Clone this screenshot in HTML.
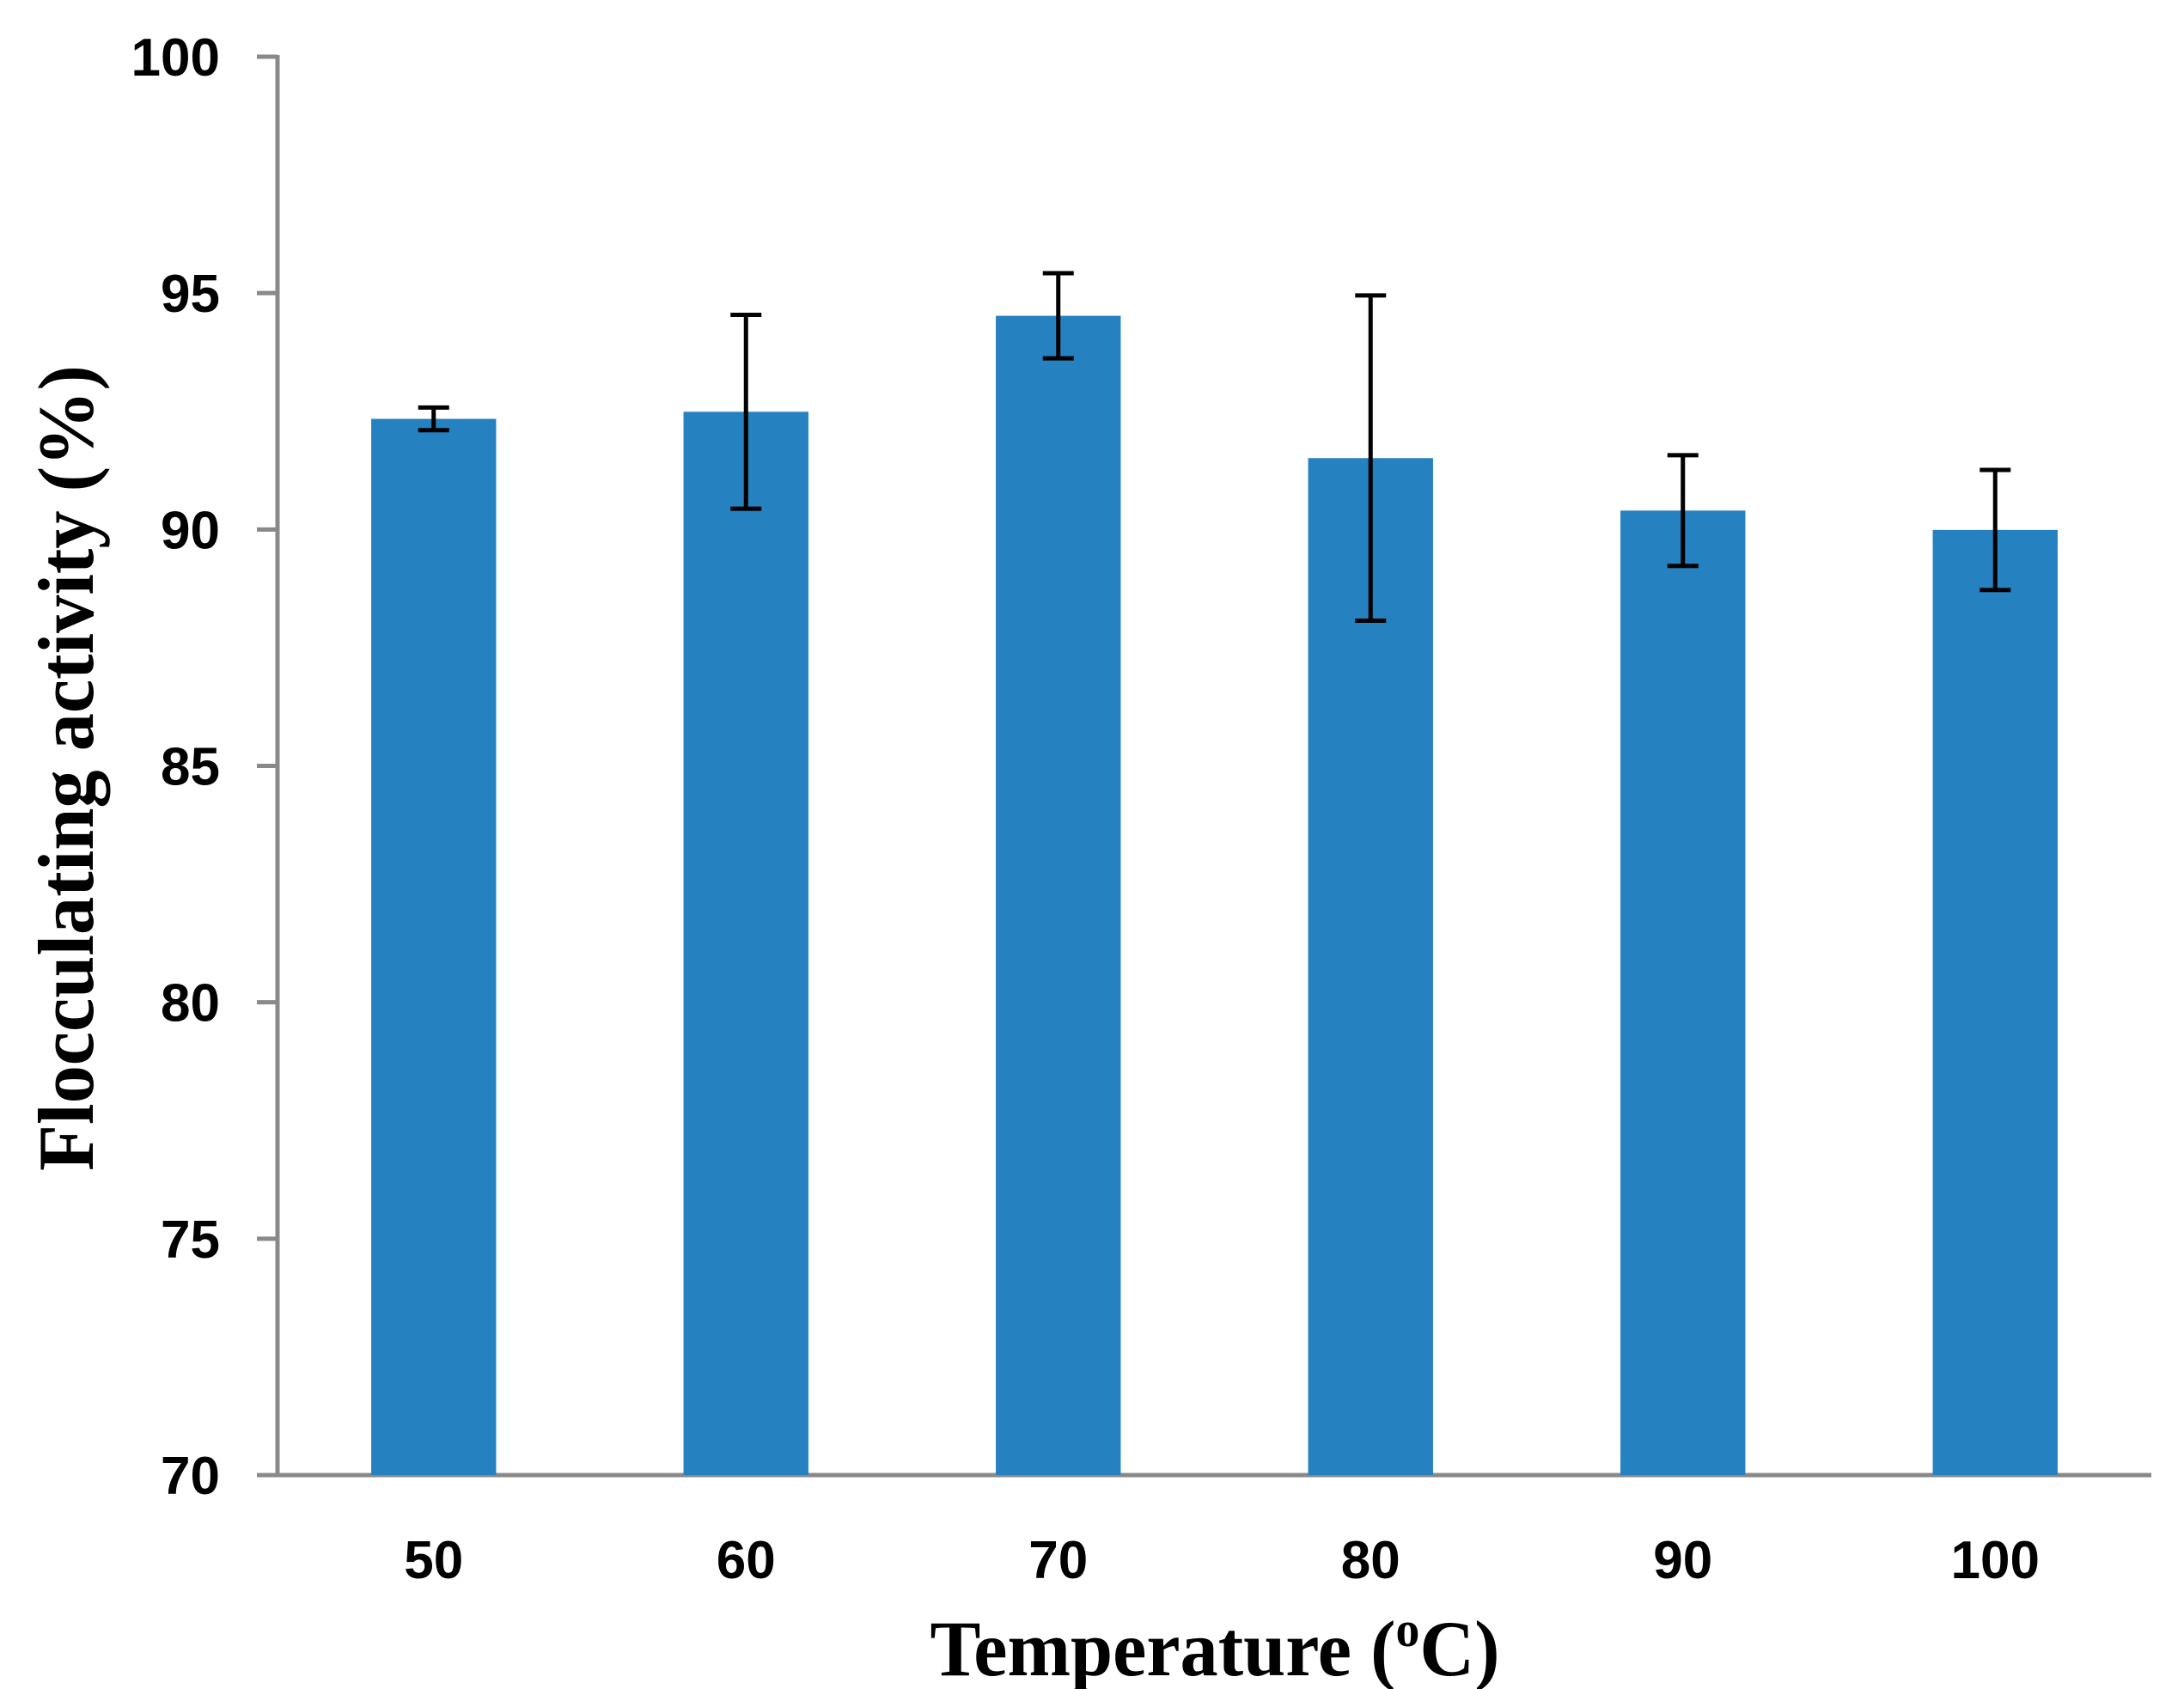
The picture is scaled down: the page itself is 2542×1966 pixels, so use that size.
<!DOCTYPE html>
<html><head><meta charset="utf-8"><style>
html,body{margin:0;padding:0;background:#fff;}
svg{display:block;}
</style></head><body>
<svg id="chart" width="2542" height="1966" viewBox="0 0 2542 1966" xmlns="http://www.w3.org/2000/svg">
<g id="axes"></g>
<g id="bars"></g>
<g id="errs"></g>
<text x="1414" y="1950" text-anchor="middle" font-family="Liberation Serif, serif" font-weight="bold" font-size="92" textLength="663" lengthAdjust="spacingAndGlyphs">Temperature (<tspan font-size="58" dy="-34">o</tspan><tspan dy="34">C)</tspan></text>
<text transform="translate(108,894) rotate(-90)" x="0" y="0" text-anchor="middle" font-family="Liberation Serif, serif" font-weight="bold" font-size="92" textLength="938" lengthAdjust="spacingAndGlyphs">Flocculating activity (%)</text>
</svg>
<script>
const categories = ["50","60","70","80","90","100"];
const values = [92.34, 92.49, 94.52, 91.51, 90.40, 89.99];
const errors = [0.24, 2.05, 0.9, 3.44, 1.17, 1.27];
const yTicks = [70, 75, 80, 85, 90, 95, 100];

const NS = "http://www.w3.org/2000/svg";
const X0 = 323, X1 = 2504, Y0 = 1717, Y1 = 66;
const yMin = 70, yMax = 100;
function yScale(v){ return Y0 - (v - yMin) / (yMax - yMin) * (Y0 - Y1); }
const band = (X1 - X0) / categories.length;
function xCenter(i){ return X0 + band * (i + 0.5); }
const barW = band * 0.4;
function mk(tag, attrs, parent){ const e = document.createElementNS(NS, tag); for (const k in attrs) e.setAttribute(k, attrs[k]); parent.appendChild(e); return e; }

const axes = document.getElementById('axes');
const bars = document.getElementById('bars');
const errs = document.getElementById('errs');

yTicks.forEach(t => {
  const y = yScale(t);
  const tk = mk('line', {x1: 299, x2: X0, y1: y, y2: y, stroke: '#898989', 'stroke-width': 5}, axes);
  
  
  const lb = mk('text', {x: 256, y: y + 22, 'text-anchor': 'end', 'font-family': 'Liberation Sans, sans-serif', 'font-weight': 'bold', 'font-size': 62}, axes);
  lb.textContent = t;
  
  
});

categories.forEach((c, i) => {
  const cx = xCenter(i);
  const top = yScale(values[i]);
  const r = mk('rect', {x: cx - barW / 2, y: top, width: barW, height: Y0 - top, fill: '#2681C0'}, bars);
  
  
  const hi = yScale(values[i] + errors[i]), lo = yScale(values[i] - errors[i]);
  const g = mk('g', {stroke: '#000', 'stroke-width': 5, fill: 'none'}, errs);
  
  
  mk('line', {x1: cx, x2: cx, y1: hi, y2: lo}, g);
  mk('line', {x1: cx - 18, x2: cx + 18, y1: hi, y2: hi}, g);
  mk('line', {x1: cx - 18, x2: cx + 18, y1: lo, y2: lo}, g);
  const lb = mk('text', {x: cx, y: 1837, 'text-anchor': 'middle', 'font-family': 'Liberation Sans, sans-serif', 'font-weight': 'bold', 'font-size': 62}, axes);
  lb.textContent = c;
  
  
});

const ya = mk('line', {x1: X0, x2: X0, y1: Y1 - 2, y2: Y0 + 2, stroke: '#898989', 'stroke-width': 5}, axes);


const xa = mk('line', {x1: 299, x2: X1, y1: Y0, y2: Y0, stroke: '#898989', 'stroke-width': 5}, axes);


</script>
</body></html>
